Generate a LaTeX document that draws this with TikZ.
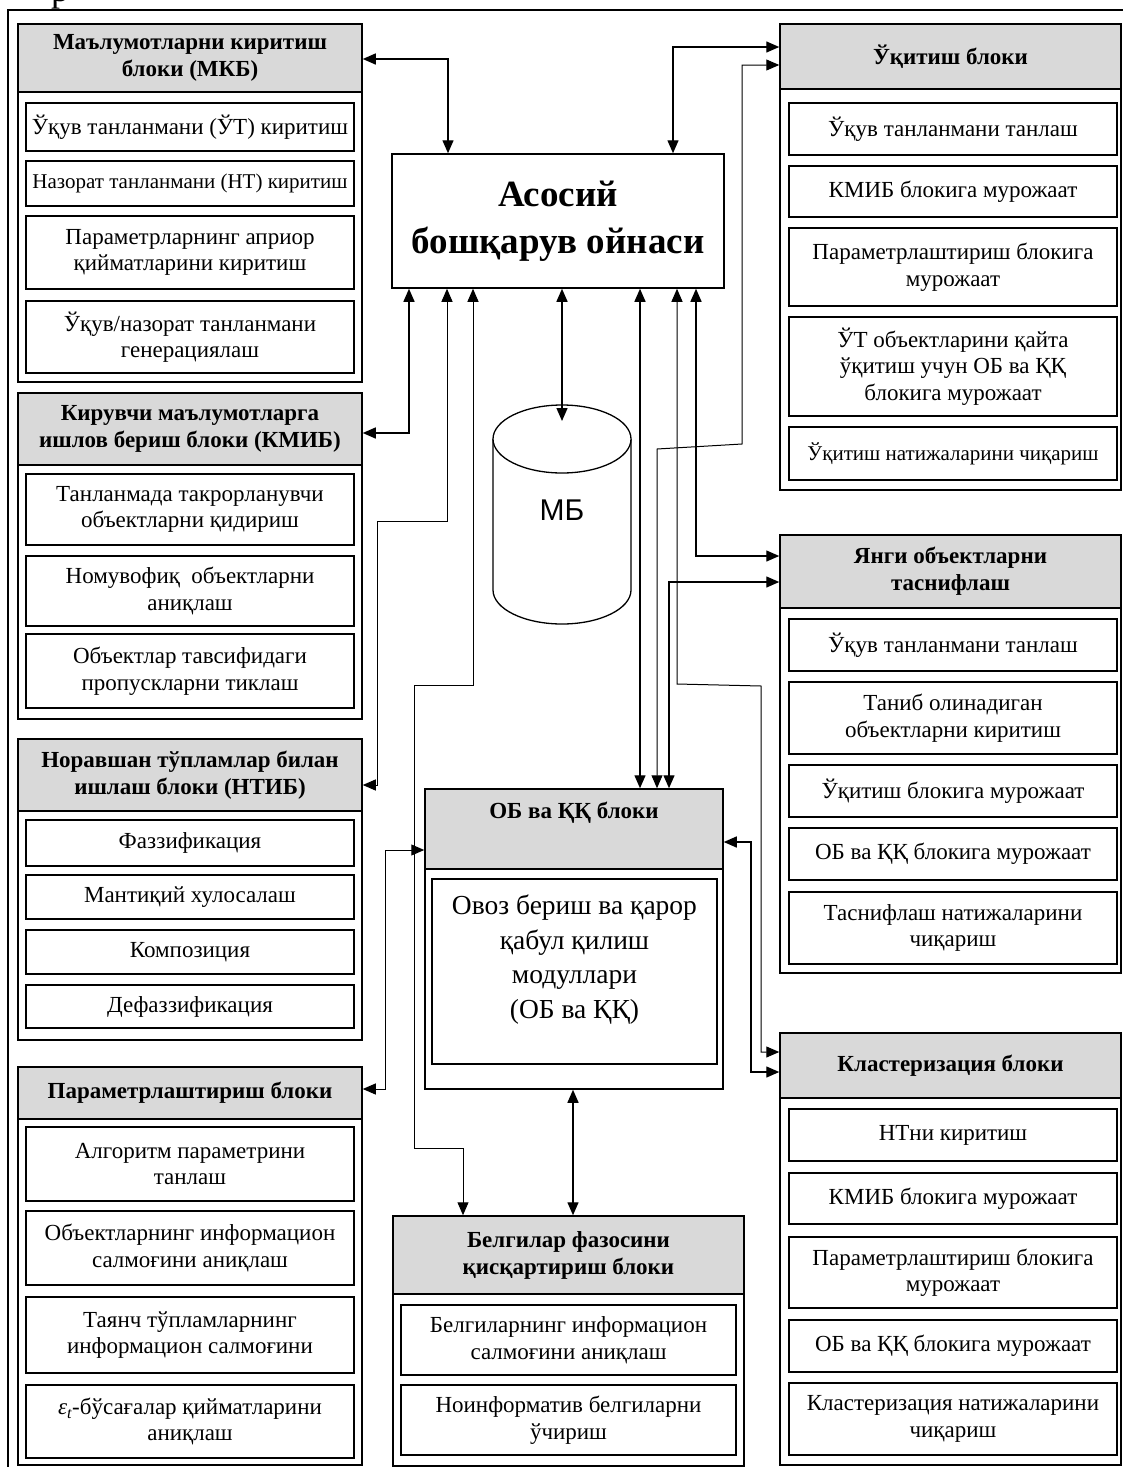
\documentclass[tikz,border=0pt]{standalone}
\usepackage{fontspec}
\setmainfont{Liberation Serif}
\newfontfamily\mysans{Liberation Sans}
\usetikzlibrary{arrows.meta}
\newcommand\myhdr{\fontsize{23}{27}\selectfont\bfseries}
\newcommand\mysub{\fontsize{23}{26.5}\selectfont}
\newcommand\mysmall{\fontsize{21}{24}\selectfont}
\newcommand\mymain{\fontsize{37}{47}\selectfont\bfseries}
\newcommand\myob{\fontsize{27.5}{34.5}\selectfont}
\begin{document}
\begin{tikzpicture}[x=1pt,y=-1pt,
  outerbox/.style={draw, line width=1.5pt, fill=white, inner sep=0pt},
  hdrbox/.style={draw, line width=1.5pt, fill=black!15, font=\myhdr, align=center, inner sep=0pt},
  subbox/.style={draw, line width=1.5pt, fill=white, font=\mysub, align=center, inner sep=0pt},
  lw/.style={minimum width=344pt},
  rw/.style={minimum width=341pt},
  ls/.style={minimum width=328pt},
  rs/.style={minimum width=328pt},
  dbl/.style={{Triangle[length=13pt,width=11pt]}-{Triangle[length=13pt,width=11pt]}, line width=1.4pt},
  dblthin/.style={dbl, line width=1pt}]
\useasboundingbox (0,0) rectangle (1122,1467);

% outer frame and cut-off glyph
\draw[line width=1.3pt] (8,1480) -- (8,10) -- (1135,10);
\node[anchor=base west, inner sep=0pt, font=\fontsize{36}{36}\selectfont] (topr) at (51,1) {р};

% ---------- left column ----------
\node[outerbox, lw, minimum height=358pt] (mkb) at (190,203) {};
\node[hdrbox, lw, minimum height=68pt] (mkbh) at (190,58) {Маълумотларни киритиш\\блоки (МКБ)};
\node[subbox, ls, minimum height=48pt] (m1) at (190,127) {Ўқув танланмани (ЎТ) киритиш};
\node[subbox, ls, minimum height=45pt, font=\mysmall] (m2) at (190,183.5) {Назорат танланмани (НТ) киритиш};
\node[subbox, ls, minimum height=73pt] (m3) at (190,252.5) {Параметрларнинг априор\\қийматларини киритиш};
\node[subbox, ls, minimum height=72pt] (m4) at (190,337) {Ўқув/назорат танланмани\\генерациялаш};

\node[outerbox, lw, minimum height=326pt] (kmib) at (190,556) {};
\node[hdrbox, lw, minimum height=72pt] (kmibh) at (190,429) {Кирувчи маълумотларга\\ишлов бериш блоки (КМИБ)};
\node[subbox, ls, minimum height=71pt] (k1) at (190,509.5) {Танланмада такрорланувчи\\объектларни қидириш};
\node[subbox, ls, minimum height=70pt] (k2) at (190,591) {Номувофиқ\ \ объектларни\\аниқлаш};
\node[subbox, ls, minimum height=74pt] (k3) at (190,671) {Объектлар тавсифидаги\\пропускларни тиклаш};

\node[outerbox, lw, minimum height=301pt] (ntib) at (190,889.5) {};
\node[hdrbox, lw, minimum height=72pt] (ntibh) at (190,775) {Норавшан тўпламлар билан\\ишлаш блоки (НТИБ)};
\node[subbox, ls, minimum height=46pt] (n1) at (190,843) {Фаззификация};
\node[subbox, ls, minimum height=44pt] (n2) at (190,897) {Мантиқий хулосалаш};
\node[subbox, ls, minimum height=44pt] (n3) at (190,952) {Композиция};
\node[subbox, ls, minimum height=43pt] (n4) at (190,1006.5) {Дефаззификация};

\node[outerbox, lw, minimum height=398pt] (par) at (190,1266) {};
\node[hdrbox, lw, minimum height=52pt] (parh) at (190,1093) {Параметрлаштириш блоки};
\node[subbox, ls, minimum height=74pt] (p1) at (190,1164) {Алгоритм параметрини\\танлаш};
\node[subbox, ls, minimum height=74pt] (p2) at (190,1248) {Объектларнинг информацион\\салмоғини аниқлаш};
\node[subbox, ls, minimum height=76pt] (p3) at (190,1335) {Таянч тўпламларнинг\\информацион салмоғини};
\node[subbox, ls, minimum height=73pt] (p4) at (190,1421.5) {{\itshape ε\textsubscript{t}}-бўсағалар қийматларини\\аниқлаш};

% ---------- centre ----------
\node[draw, line width=1.5pt, fill=white, minimum width=332pt, minimum height=134pt, font=\mymain, align=center, inner sep=0pt] (main) at (558,221) {Асосий\\бошқарув ойнаси};

\fill[white] (493,439) -- (493,590) arc[start angle=180, end angle=0, x radius=69, y radius=34] -- (631,439) -- cycle;
\draw[line width=1.3pt] (493,439) -- (493,590) arc[start angle=180, end angle=0, x radius=69, y radius=34] -- (631,439);
\draw[line width=1.3pt, fill=white] (562,439) ellipse[x radius=69, y radius=34];
\node[font=\mysans\fontsize{30}{32}\selectfont, inner sep=0pt] (mb) at (562,510) {МБ};
\coordinate (mbtop) at (562,421);

\node[outerbox, minimum width=298pt, minimum height=300pt] (ob) at (574,939) {};
\node[hdrbox, minimum width=298pt, minimum height=80pt] (obh) at (574,829) {};
\node[font=\myhdr, inner sep=0pt] (obt) at (574,813) {ОБ ва ҚҚ блоки};
\node[subbox, minimum width=285pt, minimum height=185pt] (obi) at (574.5,971.5) {};
\node[font=\myob, align=center, anchor=north, inner sep=0pt] (obx) at (574.5,895) {Овоз бериш ва қарор\\қабул қилиш\\модуллари\\(ОБ ва ҚҚ)};

\node[outerbox, minimum width=351pt, minimum height=250pt] (bel) at (568.5,1341) {};
\node[hdrbox, minimum width=351pt, minimum height=78pt] (belh) at (568.5,1255) {Белгилар фазосини\\қисқартириш блоки};
\node[subbox, minimum width=335pt, minimum height=70pt] (b1) at (568.5,1340) {Белгиларнинг информацион\\салмоғини аниқлаш};
\node[subbox, minimum width=335pt, minimum height=70pt] (b2) at (568.5,1420) {Ноинформатив белгиларни\\ўчириш};

% ---------- right column ----------
\node[outerbox, rw, minimum height=466pt] (uk) at (950.5,257) {};
\node[hdrbox, rw, minimum height=65pt] (ukh) at (950.5,56.5) {Ўқитиш блоки};
\node[subbox, rs, minimum height=52pt] (u1) at (953,129) {Ўқув танланмани танлаш};
\node[subbox, rs, minimum height=51pt] (u2) at (953,191.5) {КМИБ блокига мурожаат};
\node[subbox, rs, minimum height=78pt] (u3) at (953,267) {Параметрлаштириш блокига\\мурожаат};
\node[subbox, rs, minimum height=99pt] (u4) at (953,366.5) {ЎТ объектларини қайта\\ўқитиш учун ОБ ва ҚҚ\\блокига мурожаат};
\node[subbox, rs, minimum height=53pt, font=\mysmall] (u5) at (953,453.5) {Ўқитиш натижаларини чиқариш};

\node[outerbox, rw, minimum height=438pt] (ya) at (950.5,754) {};
\node[hdrbox, rw, minimum height=73pt] (yah) at (950.5,571.5) {Янги объектларни\\таснифлаш};
\node[subbox, rs, minimum height=52pt] (y1) at (953,645) {Ўқув танланмани танлаш};
\node[subbox, rs, minimum height=72pt] (y2) at (953,718) {Таниб олинадиган\\объектларни киритиш};
\node[subbox, rs, minimum height=52pt] (y3) at (953,791) {Ўқитиш блокига мурожаат};
\node[subbox, rs, minimum height=52pt] (y4) at (953,854) {ОБ ва ҚҚ блокига мурожаат};
\node[subbox, rs, minimum height=72pt] (y5) at (953,928) {Таснифлаш натижаларини\\чиқариш};

\node[outerbox, rw, minimum height=432pt] (cl) at (950.5,1249) {};
\node[hdrbox, rw, minimum height=65pt] (clh) at (950.5,1065.5) {Кластеризация блоки};
\node[subbox, rs, minimum height=52pt] (c1) at (953,1135) {НТни киритиш};
\node[subbox, rs, minimum height=51pt] (c2) at (953,1198.5) {КМИБ блокига мурожаат};
\node[subbox, rs, minimum height=71pt] (c3) at (953,1272.5) {Параметрлаштириш блокига\\мурожаат};
\node[subbox, rs, minimum height=52pt] (c4) at (953,1346) {ОБ ва ҚҚ блокига мурожаат};
\node[subbox, rs, minimum height=72pt] (c5) at (953,1419) {Кластеризация натижаларини\\чиқариш};

% ---------- connectors ----------
\draw[dbl] (mkbh.east |- 0,59) -| (448,0 |- main.north);
\draw[dbl] (673,0 |- main.north) |- (ukh.west |- 0,47);
\draw[dblthin] (657,0 |- ob.north) -- (657,449) -- (742,444) -- (742,65) -- (ukh.west |- 0,65);
\draw[dbl] (409,0 |- main.south) |- (kmibh.east |- 0,433);
\draw[dblthin] (447,0 |- main.south) -- (447,521) -- (377,521) -- (377,785) -- (ntibh.east |- 0,785);
\draw[dblthin] (473,0 |- main.south) -- (473,685) -- (414,685) -- (414,1148) -- (463,1148) -- (463,0 |- belh.north);
\draw[dbl] (562,0 |- main.south) -- (mbtop);
\draw[dbl] (640,0 |- main.south) -- (640,0 |- ob.north);
\draw[dblthin] (677,0 |- main.south) -- (677,684) -- (761,686) -- (761,1052) -- (clh.west |- 0,1052);
\draw[dbl] (696,0 |- main.south) |- (yah.west |- 0,556);
\draw[dbl] (669,0 |- ob.north) |- (yah.west |- 0,582);
\draw[dbl] (ob.east |- 0,842) -- (751,842) -- (751,1072) -- (clh.west |- 0,1072);
\draw[dblthin] (ob.west |- 0,850) -- (385,850) -- (385,1089) -- (parh.east |- 0,1089);
\draw[dbl] (573,0 |- ob.south) -- (573,0 |- belh.north);
\end{tikzpicture}
\end{document}
